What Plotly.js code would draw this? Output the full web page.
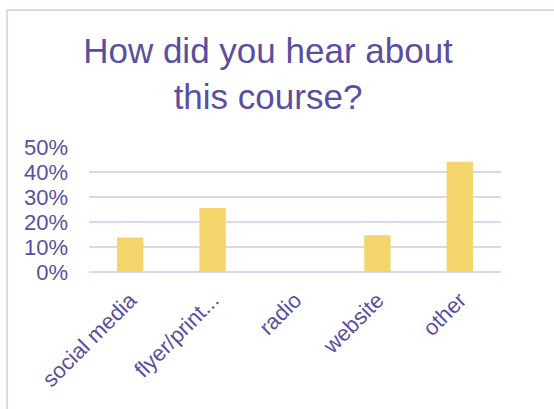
<!DOCTYPE html>
<html><head><meta charset="utf-8">
<script src="https://cdn.plot.ly/plotly-3.0.1.min.js"></script>
<style>
html,body{margin:0;padding:0;background:#fff;}
#wrap{position:absolute;left:0;top:0;width:554px;height:409px;}
#frame{position:absolute;left:6px;top:9px;width:560px;height:420px;border-left:2px solid #dcd9ee;border-top:2px solid #dcd9ee;}
#chart{position:absolute;left:0;top:0;width:554px;height:409px;}
</style></head>
<body>
<div id="wrap"><div id="frame"></div><div id="chart"></div></div>
<script>
const categories = ["social media", "flyer/print...", "radio", "website", "other"];
const percentValues = [13.8, 25.6, 0, 14.7, 44.1];
const yTickValues = [0, 10, 20, 30, 40, 50];
const yTickLabels = yTickValues.map(v => v + "%");

const textColor = "#5a4f9f";
const fontFamily = "Liberation Sans, Arial, sans-serif";

Plotly.newPlot("chart", [{
  type: "bar",
  x: categories,
  y: percentValues,
  marker: {color: "#f3d56c"},
  width: 0.32,
  hoverinfo: "x+y"
}], {
  width: 554, height: 409,
  paper_bgcolor: "rgba(0,0,0,0)",
  plot_bgcolor: "rgba(0,0,0,0)",
  margin: {l: 89, r: 53, t: 147, b: 137},
  showlegend: false,
  title: {
    text: "How did you hear about<br>this course?",
    font: {family: fontFamily, size: 35, color: textColor},
    x: 268/554, xanchor: "center",
    y: 1 - 63/409, yanchor: "top"
  },
  xaxis: {
    type: "category",
    tickangle: -45,
    tickfont: {family: fontFamily, size: 22, color: textColor},
    showgrid: false, zeroline: false, showline: false,
    ticks: "",
    ticklabelstandoff: 10
  },
  yaxis: {
    range: [0, 50],
    tickvals: yTickValues,
    ticktext: yTickLabels,
    tickfont: {family: fontFamily, size: 22, color: textColor},
    gridcolor: "#dad7ee", gridwidth: 1.5,
    zeroline: true, zerolinecolor: "#dad7ee", zerolinewidth: 1.5,
    showline: false, ticks: "",
    ticklabelstandoff: 20
  },
  font: {family: fontFamily, color: textColor}
}, {displayModeBar: false, staticPlot: true});
</script>
</body></html>
